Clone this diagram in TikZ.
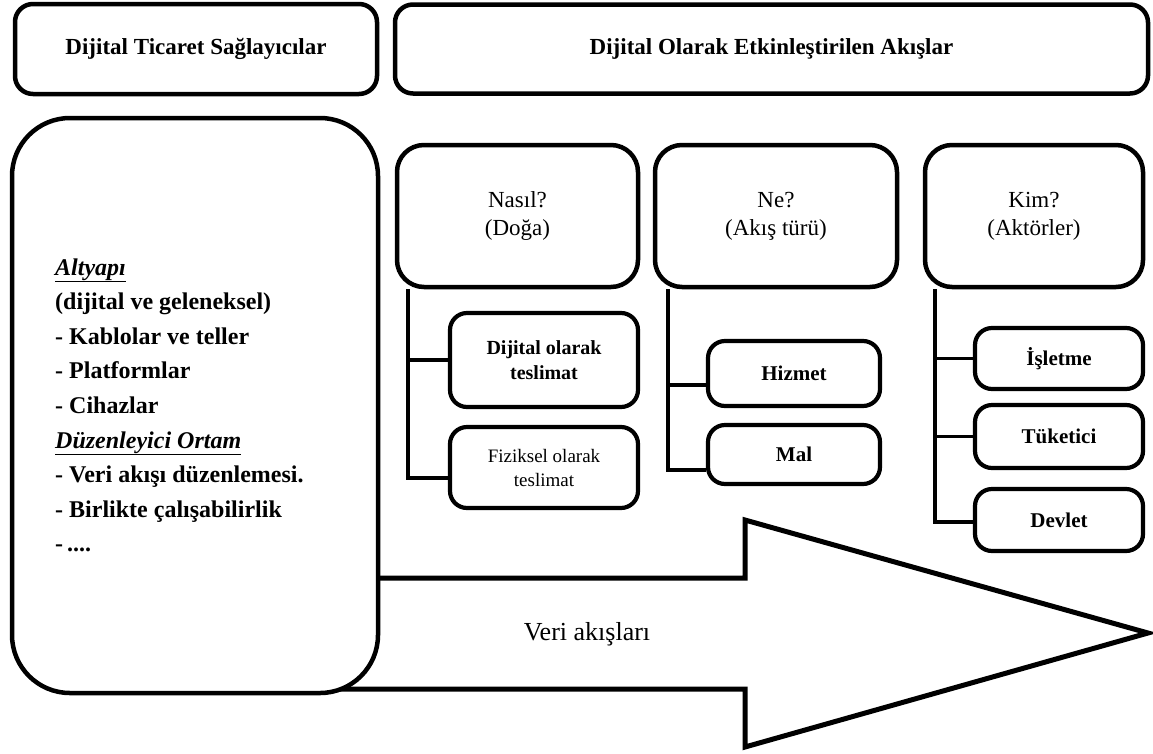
\documentclass[tikz,border=0pt]{standalone}
\usepackage{fontspec}
\setmainfont{Liberation Serif}
\usetikzlibrary{backgrounds}
\newcommand\fsz[2]{\fontsize{#1}{#2}\selectfont}

\begin{document}
\begin{tikzpicture}[x=1pt,y=-1pt,
  headbox/.style={draw, line width=4.5pt, rounded corners=18pt, fill=white,
    inner sep=0pt, align=center, font=\fsz{23}{28}\bfseries},
  infrabox/.style={draw, line width=4.5pt, rounded corners=58pt, fill=white, inner sep=0pt},
  qbox/.style={draw, line width=4.5pt, rounded corners=27pt, fill=white,
    inner sep=0pt, align=center, font=\fsz{23}{28}},
  leafbox/.style={draw, line width=4.2pt, rounded corners=17pt, fill=white,
    inner sep=0pt, align=center, font=\fsz{21}{25}\bfseries},
  conn/.style={line width=3.2pt},
  flow/.style={line width=5pt, line join=miter},
  item/.style={anchor=base west, inner sep=0pt, font=\fsz{24}{30}\bfseries},
]
\useasboundingbox (0,0) rectangle (1153,753);
\begin{scope}[on background layer]
  \fill[white] (0,0) rectangle (1153,753);
\end{scope}

% headers
\node[headbox, minimum width=362pt, minimum height=90pt] (hdrL) at (196,49)
  {Dijital Ticaret Sağlayıcılar};
\node[headbox, minimum width=753pt, minimum height=89pt] (hdrR) at (771.5,49)
  {Dijital Olarak Etkinleştirilen Akışlar};

% providers
\node[infrabox, minimum width=366pt, minimum height=575pt] (infra) at (195,405.5) {};
\node[item] (l1) at (55,275) {\underline{\textit{Altyapı}}};
\node[item] (l2) at (55,309.6) {(dijital ve geleneksel)};
\node[item] (l3) at (55,344.2) {- Kablolar ve teller};
\node[item] (l4) at (55,378.8) {- Platformlar};
\node[item] (l5) at (55,413.4) {- Cihazlar};
\node[item] (l6) at (55,448) {\underline{\textit{Düzenleyici Ortam}}};
\node[item] (l7) at (55,482.6) {- Veri akışı düzenlemesi.};
\node[item] (l8) at (55,517.2) {- Birlikte çalışabilirlik};
\node[item] (l9) at (55,551.8) {-\,....};

% question boxes
\node[qbox, minimum width=241pt, minimum height=142pt] (how) at (517.5,216) {Nasıl?\\(Doğa)};
\node[qbox, minimum width=242pt, minimum height=142pt] (what) at (776,216) {Ne?\\(Akış türü)};
\node[qbox, minimum width=218pt, minimum height=142pt] (who) at (1034,216) {Kim?\\(Aktörler)};

% leaves
\node[leafbox, minimum width=188pt, minimum height=94pt, font=\fsz{20}{25}\bfseries]
  (dig) at (544,360) {Dijital olarak\\teslimat};
\node[leafbox, minimum width=188pt, minimum height=81pt, font=\fsz{19}{24}]
  (phys) at (544,467.5) {Fiziksel olarak\\teslimat};
\node[leafbox, minimum width=172pt, minimum height=65pt] (serv) at (794,373.5) {Hizmet};
\node[leafbox, minimum width=172pt, minimum height=59pt] (goods) at (794,454.5) {Mal};
\node[leafbox, minimum width=168pt, minimum height=61pt] (biz) at (1059,358.5) {İşletme};
\node[leafbox, minimum width=168pt, minimum height=63pt] (cons) at (1059,436.5) {Tüketici};
\node[leafbox, minimum width=168pt, minimum height=62pt] (gov) at (1059,520) {Devlet};

% tree connectors
\coordinate (howx) at (408,0);
\coordinate (whatx) at (668,0);
\coordinate (whox) at (935,0);
\begin{scope}[on background layer]
  \draw[conn] (how.south -| howx) |- ([yshift=-10.5pt]phys.west);
  \draw[conn] (dig.west) -- (dig.west -| howx);
  \draw[conn] (what.south -| whatx) |- ([yshift=-15.5pt]goods.west);
  \draw[conn] ([yshift=-11.5pt]serv.west) -- ([yshift=-11.5pt]serv.west -| whatx);
  \draw[conn] (who.south -| whox) |- ([yshift=-2pt]gov.west);
  \draw[conn] (biz.west) -- (biz.west -| whox);
  \draw[conn] (cons.west) -- (cons.west -| whox);
\end{scope}

% data flow arrow
\coordinate (sT) at (745,578);
\coordinate (hT) at (745,520);
\coordinate (tip) at (1148,633);
\coordinate (hB) at (745,747);
\coordinate (sB) at (745,689);
\begin{scope}[on background layer]
  \draw[flow] (infra.center |- sT) -- (sT) -- (hT) -- (tip) -- (hB) -- (sB) -- (infra.center |- sB);
\end{scope}
\node[inner sep=0pt, font=\fsz{26}{30}] (flowlbl) at (587,634) {Veri akışları};
\end{tikzpicture}
\end{document}
